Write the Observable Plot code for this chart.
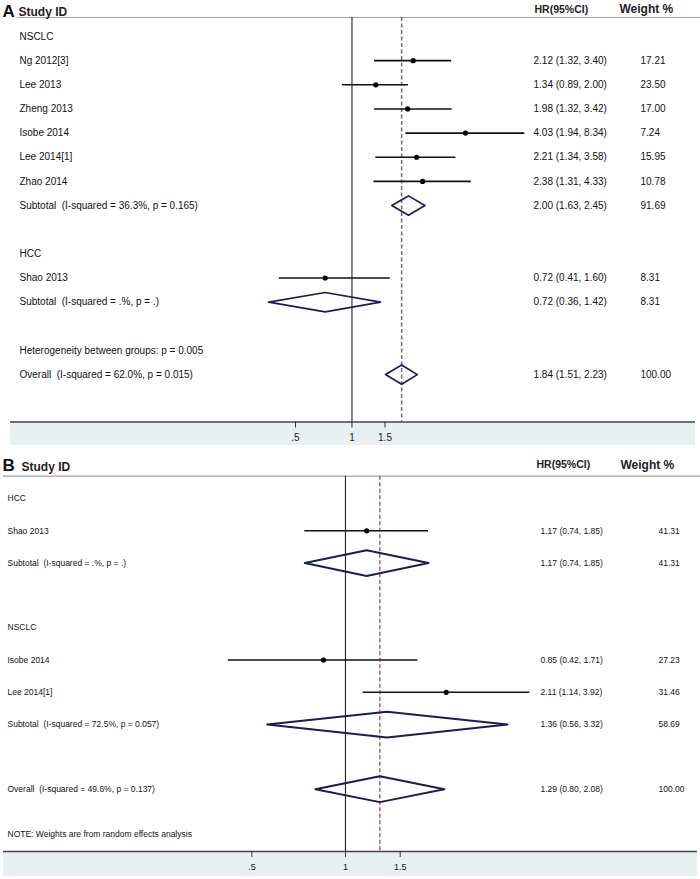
<!DOCTYPE html>
<html>
<head>
<meta charset="utf-8">
<script src="https://cdn.jsdelivr.net/npm/d3@7"></script>
<script src="https://cdn.jsdelivr.net/npm/@observablehq/plot@0.6"></script>
<style>
  html, body { margin: 0; padding: 0; background: #fff; }
  #chart { width: 700px; }
  #chart svg { display: block; }
</style>
</head>
<body>
<div id="chart"></div>
<script>
// ---------------- Panel A data ----------------
const aLabels = ["NSCLC", "Ng 2012[3]", "Lee 2013", "Zheng 2013", "Isobe 2014", "Lee 2014[1]", "Zhao 2014",
  "Subtotal  (I-squared = 36.3%, p = 0.165)", "", "HCC", "Shao 2013", "Subtotal  (I-squared = .%, p = .)", "",
  "Heterogeneity between groups: p = 0.005", "Overall  (I-squared = 62.0%, p = 0.015)"];
const aKind = ["group", "study", "study", "study", "study", "study", "study", "pooled", "", "group", "study", "pooled", "", "note", "overall"];
const aHR = [null, 2.12, 1.34, 1.98, 4.03, 2.21, 2.38, 2.00, null, null, 0.72, 0.72, null, null, 1.84];
const aLo = [null, 1.32, 0.89, 1.32, 1.94, 1.34, 1.31, 1.63, null, null, 0.41, 0.36, null, null, 1.51];
const aHi = [null, 3.40, 2.00, 3.42, 8.34, 3.58, 4.33, 2.45, null, null, 1.60, 1.42, null, null, 2.23];
const aWeight = [null, 17.21, 23.50, 17.00, 7.24, 15.95, 10.78, 91.69, null, null, 8.31, 8.31, null, null, 100.00];

// ---------------- Panel B data ----------------
const bLabels = ["HCC", "Shao 2013", "Subtotal  (I-squared = .%, p = .)", "", "NSCLC", "Isobe 2014", "Lee 2014[1]",
  "Subtotal  (I-squared = 72.5%, p = 0.057)", "", "Overall  (I-squared = 49.6%, p = 0.137)"];
const bKind = ["group", "study", "pooled", "", "group", "study", "study", "pooled", "", "overall"];
const bHR = [null, 1.17, 1.17, null, null, 0.85, 2.11, 1.36, null, 1.29];
const bLo = [null, 0.74, 0.74, null, null, 0.42, 1.14, 0.56, null, 0.80];
const bHi = [null, 1.85, 1.85, null, null, 1.71, 3.92, 3.32, null, 2.08];
const bWeight = [null, 41.31, 41.31, null, null, 27.23, 31.46, 58.69, null, 100.00];
const bNote = "NOTE: Weights are from random effects analysis";

// ---------------- Axis ticks ----------------
const tickValues = [0.5, 1, 1.5];
const tickLabels = [".5", "1", "1.5"];

const FONT = "'Liberation Sans', Arial, sans-serif";

function buildRows(labels, kind, hr, lo, hi, w) {
  return labels.map((label, i) => ({row: i, label, kind: kind[i], hr: hr[i], lo: lo[i], hi: hi[i], w: w[i]}));
}

function diamonds(rows, h) {
  const pts = [];
  rows.filter(d => d.kind === "pooled" || d.kind === "overall").forEach(d => {
    pts.push({id: d.row, x: d.lo, y: d.row});
    pts.push({id: d.row, x: d.hr, y: d.row - h});
    pts.push({id: d.row, x: d.hi, y: d.row});
    pts.push({id: d.row, x: d.hr, y: d.row + h});
    pts.push({id: d.row, x: d.lo, y: d.row});
  });
  return pts;
}

function panel(rows, L) {
  const studies = rows.filter(d => d.kind === "study");
  const withHR = rows.filter(d => d.hr != null);
  const overall = rows.find(d => d.kind === "overall");
  const marks = [
    // shaded axis band
    Plot.rect([0], {y1: () => L.axisRow, y2: () => L.bandRow, fill: "#e8f0f2", insetLeft: L.bandLeft, insetRight: L.bandRight}),
    Plot.ruleY([L.axisRow], {stroke: "#444", strokeWidth: 1.3, insetLeft: L.bandLeft, insetRight: L.bandRight}),
    Plot.axisX({ticks: tickValues, tickFormat: d => tickLabels[tickValues.indexOf(d)], tickSize: 6, tickPadding: 6,
      fontSize: L.tickFs, stroke: "#333", fill: "#222", label: null}),
    // header line
    Plot.ruleY([L.headRow], {stroke: "#a0a0a0", strokeWidth: 1.2, insetLeft: L.headLeft}),
    // null line
    Plot.ruleX([1], {y1: L.headRow, y2: L.axisRow, stroke: "#222", strokeWidth: 1.1}),
    // overall effect dashed line
    Plot.ruleX([overall.hr], {y1: L.headRow, y2: L.axisRow, stroke: L.dashColor, strokeWidth: 1.5, strokeDasharray: "4,2.5"}),
    // CIs
    Plot.ruleY(studies, {y: "row", x1: "lo", x2: "hi", stroke: "#111", strokeWidth: 1.6}),
    Plot.dot(studies, {x: "hr", y: "row", r: L.dotR, fill: "#000", stroke: null}),
    // diamonds
    Plot.line(diamonds(rows, 0.4), {x: "x", y: "y", z: "id", stroke: "#1c1c55", strokeWidth: L.diaW, curve: "linear"}),
    // row labels
    Plot.text(rows, {y: "row", text: "label", frameAnchor: "left", dx: L.labelX, textAnchor: "start", fontSize: L.fs, fill: "#111"}),
    Plot.text(withHR, {y: "row", text: d => `${d.hr.toFixed(2)} (${d.lo.toFixed(2)}, ${d.hi.toFixed(2)})`, frameAnchor: "left", dx: L.hrX, textAnchor: "start", fontSize: L.fs, fill: "#111"}),
    Plot.text(withHR, {y: "row", text: d => d.w.toFixed(2), frameAnchor: "left", dx: L.wX, textAnchor: "start", fontSize: L.fs, fill: "#111", fontWeight: d => (L.boldOverall && d.kind === "overall") ? "bold" : "normal"}),
    // headers
    Plot.text([L.letter], {y: () => L.letterRow, text: d => d, frameAnchor: "left", dx: 2, textAnchor: "start", lineAnchor: "bottom", fontSize: 17, fontWeight: "bold", fill: "#111"}),
    Plot.text(["Study ID"], {y: () => L.studyRow, text: d => d, frameAnchor: "left", dx: L.studyX, textAnchor: "start", lineAnchor: "bottom", fontSize: 12, fontWeight: "bold", fill: "#222"}),
    Plot.text(["HR(95%CI)"], {y: () => L.hrHeadRow, text: d => d, frameAnchor: "left", dx: L.hrHeadX, textAnchor: "start", lineAnchor: "bottom", fontSize: 10.5, fontWeight: "bold", fill: "#222"}),
    Plot.text(["Weight %"], {y: () => L.wHeadRow, text: d => d, frameAnchor: "left", dx: L.wHeadX, textAnchor: "start", lineAnchor: "bottom", fontSize: 12, fontWeight: "bold", fill: "#222"})
  ];
  if (L.note) {
    marks.push(Plot.text([L.note], {y: () => L.noteRow, text: d => d, frameAnchor: "left", dx: L.labelX, textAnchor: "start", fontSize: L.fs, fill: "#111"}));
  }
  return Plot.plot({
    width: 700,
    height: L.height,
    marginTop: 0,
    marginLeft: 0,
    marginRight: 0,
    marginBottom: L.height - L.axisPx,
    style: {fontFamily: FONT, fontSize: "10px", color: "#222", background: "#fff", overflow: "visible"},
    x: {type: "log", domain: [0.5, 1.5], range: L.xRange},
    y: {domain: [0, rows.length - 1], range: [L.row0, L.row0 + L.rowH * (rows.length - 1)], axis: null},
    marks
  });
}

// Panel A layout
const rowsA = buildRows(aLabels, aKind, aHR, aLo, aHi, aWeight);
const rA = px => (px - 36) / 24.15;
const plotA = panel(rowsA, {
  height: 452, axisPx: 421.5, row0: 36, rowH: 24.15,
  xRange: [295, 384.5],
  axisRow: rA(421.5), bandRow: rA(445), headRow: rA(17),
  bandLeft: 10, bandRight: 5, headLeft: 17,
  dashColor: "#6e6e6e", dotR: 2.6, diaW: 1.7,
  labelX: 19, hrX: 533, wX: 640, fs: 10, boldOverall: true, tickFs: 10,
  letter: "A", letterRow: rA(16), studyX: 18, studyRow: rA(15),
  hrHeadX: 534, hrHeadRow: rA(12), wHeadX: 619, wHeadRow: rA(12.5)
});

// Panel B layout
const rowsB = buildRows(bLabels, bKind, bHR, bLo, bHi, bWeight);
const rB = px => (px - 46) / 32.3;
const plotB = panel(rowsB, {
  height: 427, axisPx: 399, row0: 46, rowH: 32.3,
  xRange: [251.4, 399.7],
  axisRow: rB(399), bandRow: rB(424), headRow: rB(23.7),
  bandLeft: 3, bandRight: 3, headLeft: 3,
  dashColor: "#a06666", dotR: 2.6, diaW: 2,
  labelX: 7, hrX: 540, wX: 658, fs: 8.5, boldOverall: false, tickFs: 9,
  letter: "B", letterRow: rB(18.5), studyX: 21, studyRow: rB(18),
  hrHeadX: 536, hrHeadRow: rB(15), wHeadX: 620, wHeadRow: rB(16),
  note: bNote, noteRow: rB(382)
});

document.getElementById("chart").append(plotA, plotB);
</script>
</body>
</html>
